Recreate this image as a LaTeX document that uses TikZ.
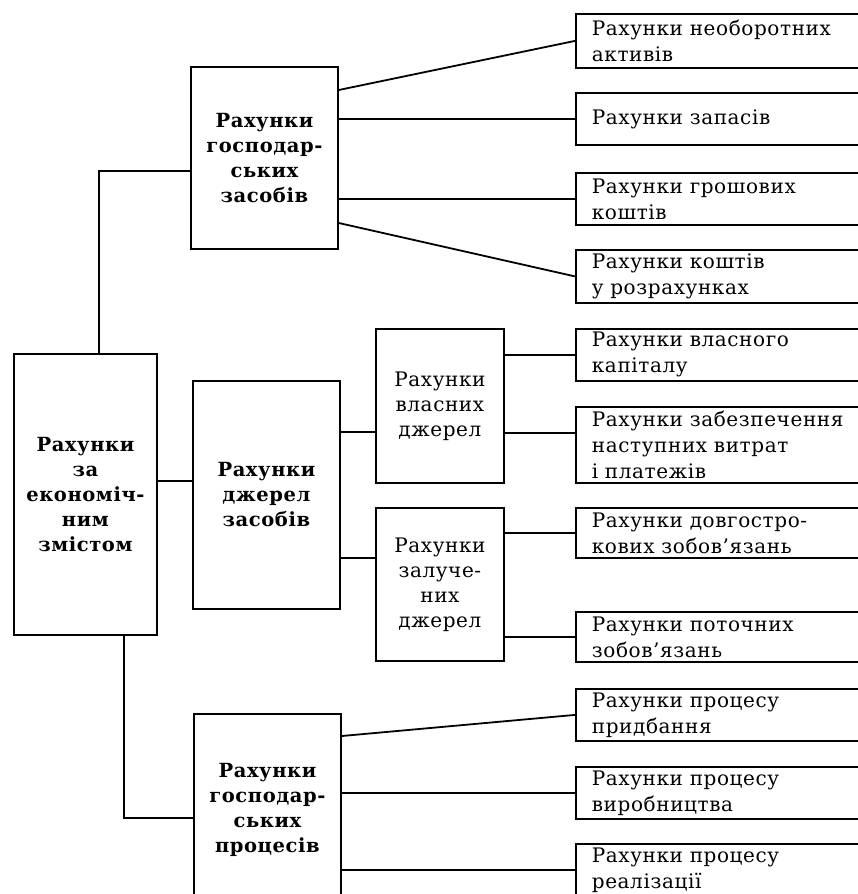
\documentclass[tikz,border=0pt]{standalone}
\usepackage{fontspec}
\setmainfont{DejaVu Serif}
\newfontfamily\spfont[LetterSpace=3]{DejaVu Serif}
\usetikzlibrary{calc}
\tikzset{
  ln/.style={line width=1.8pt},
  lbox/.style={draw, line width=1.8pt, anchor=north west, align=center, inner sep=0pt,
    font=\spfont\bfseries\fontsize{19.5}{25}\selectfont},
  mbox/.style={draw, line width=1.8pt, anchor=north west, align=center, inner sep=0pt,
    font=\spfont\fontsize{20}{25}\selectfont},
  rbox/.style={draw, line width=1.8pt, anchor=north west, align=left, inner ysep=0pt,
    inner xsep=16pt, text width=270pt, font=\spfont\fontsize{20}{26}\selectfont}
}
\begin{document}
\begin{tikzpicture}[x=1pt,y=-1pt]
\clip (0,0) rectangle (858,894);
\fill[white] (0,0) rectangle (858,894);
% left column
\node[lbox, minimum width=143pt, minimum height=281pt] (main) at (13,353) {Рахунки\\за\\економіч-\\ним\\змістом};
% second column
\node[lbox, minimum width=147pt, minimum height=182pt] (b1) at (190,66) {Рахунки\\господар-\\ських\\засобів};
\node[lbox, minimum width=147pt, minimum height=228pt] (b2) at (192,380) {Рахунки\\джерел\\засобів};
\node[lbox, minimum width=147pt, minimum height=192pt] (b3) at (193,713) {Рахунки\\господар-\\ських\\процесів};
% third column
\node[mbox, minimum width=128pt, minimum height=154pt] (m1) at (375,328) {Рахунки\\власних\\джерел};
\node[mbox, minimum width=128pt, minimum height=153pt] (m2) at (375,507) {Рахунки\\залуче-\\них\\джерел};
% right column
\node[rbox, minimum height=54pt] (r1) at (575,13) {Рахунки необоротних\\активів};
\node[rbox, minimum height=52pt] (r2) at (575,92) {Рахунки запасів};
\node[rbox, minimum height=52pt] (r3) at (575,172) {Рахунки грошових\\коштів};
\node[rbox, minimum height=53pt] (r4) at (575,249) {Рахунки коштів\\у розрахунках};
\node[rbox, minimum height=52pt] (r5) at (575,328) {Рахунки власного\\капіталу};
\node[rbox, minimum height=76pt] (r6) at (575,406) {Рахунки забезпечення\\наступних витрат\\і платежів};
\node[rbox, minimum height=50pt] (r7) at (575,507) {Рахунки довгостро-\\кових зобов’язань};
\node[rbox, minimum height=50pt] (r8) at (575,611) {Рахунки поточних\\зобов’язань};
\node[rbox, minimum height=52pt] (r9) at (575,688) {Рахунки процесу\\придбання};
\node[rbox, minimum height=52pt] (r10) at (575,766) {Рахунки процесу\\виробництва};
\node[rbox, minimum height=52pt] (r11) at (575,843) {Рахунки процесу\\реалізації};
% connectors from main
\draw[ln] ($(main.north west)+(86,0)$) |- ($(b1.north west)+(0,105)$);
\coordinate (cm) at ($(main.north east)+(0,128)$);
\draw[ln] (cm) -- (b2.west |- cm);
\draw[ln] ($(main.south west)+(111,0)$) |- ($(b3.north west)+(0,105)$);
% b1 connectors
\draw[ln] ($(b1.north east)+(0,24)$) -- (r1.west);
\draw[ln] (b1.east |- r2.west) -- (r2.west);
\draw[ln] (b1.east |- r3.west) -- (r3.west);
\draw[ln] ($(b1.north east)+(0,157)$) -- (r4.west);
% b2 connectors
\coordinate (c1) at ($(m1.north west)+(0,104)$);
\draw[ln] (b2.east |- c1) -- (c1);
\coordinate (c2) at ($(m2.north west)+(0,51)$);
\draw[ln] (b2.east |- c2) -- (c2);
% m1, m2 connectors
\draw[ln] (m1.east |- r5.west) -- (r5.west);
\coordinate (c3) at ($(r6.north west)+(0,27)$);
\draw[ln] (m1.east |- c3) -- (c3);
\draw[ln] (m2.east |- r7.west) -- (r7.west);
\draw[ln] (m2.east |- r8.west) -- (r8.west);
% b3 connectors
\draw[ln] ($(b3.north east)+(0,23)$) -- (r9.west);
\draw[ln] (b3.east |- r10.west) -- (r10.west);
\draw[ln] (b3.east |- r11.west) -- (r11.west);
\end{tikzpicture}
\end{document}
